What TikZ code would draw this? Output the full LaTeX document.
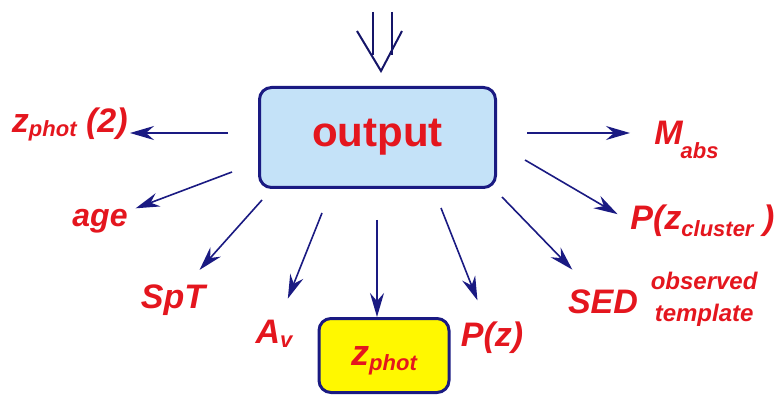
\documentclass[tikz,border=0pt]{standalone}
\usepackage{fontspec}
\setmainfont{Liberation Sans}
\usepackage{xcolor}
\usetikzlibrary{arrows.meta, positioning, calc}
\definecolor{labelred}{RGB}{228,22,30}
\definecolor{arrownavy}{RGB}{26,26,130}
\definecolor{boxblue}{RGB}{196,226,248}
\definecolor{boxyellow}{RGB}{255,248,0}
% lowered small text for subscripts
\newcommand{\subtxt}[2][2.5pt]{\raisebox{-#1}{\fontsize{11}{12}\selectfont #2}}

\begin{document}
\begin{tikzpicture}[x=0.5pt, y=-0.5pt,
    outlbl/.style={text=labelred, font=\bfseries\itshape\fontsize{17}{20}\selectfont, inner sep=1pt},
    resbox/.style={draw=arrownavy, line width=1.5pt, rounded corners=6pt},
    arr/.style={arrownavy, line width=0.8pt, -{Stealth[length=12pt, width=7pt, inset=4pt]}},
    inarr/.style={arrownavy!80!black, line width=1pt}]
    \useasboundingbox (0,0) rectangle (781,395);

    % Boxes
    \node[resbox, fill=boxblue, minimum width=118pt, minimum height=50pt, text=labelred,
          font=\bfseries\fontsize{21}{24}\selectfont] (out) at (377.5,137.5) {output};
    \node[resbox, fill=boxyellow, minimum width=65pt, minimum height=37pt, text depth=0pt,
          text=labelred, font=\bfseries\itshape\fontsize{18}{20}\selectfont] (zph) at (384,355.5) {z\subtxt[2.5pt]{phot}};

    % Input arrow
    \coordinate (in) at (382.5,12);
    \coordinate (tip) at (381,71);
    \draw[inarr] ($(in)+(-9.5,0)$) -- ++(0,43);
    \draw[inarr] ($(in)+(9.5,0)$) -- ++(0,43);
    \draw[inarr] ($(tip)+(-24,-40)$) -- (tip) -- ($(tip)+(21,-40)$);

    % Labels
    \node[outlbl, anchor=base east] (zph2) at (130,133) {z\subtxt[2pt]{phot} (2)};
    \node[outlbl, anchor=base, font=\bfseries\itshape\fontsize{16}{20}\selectfont] (age) at (100,227) {age};
    \node[outlbl, anchor=base] (spt) at (173,308) {SpT};
    \node[outlbl, anchor=base] (av) at (274,343) {A\subtxt[2pt]{v}};
    \node[outlbl, anchor=base] (pz) at (492,346) {P(z)};
    \node[outlbl, anchor=base] (sed) at (603,313) {SED};
    \node[outlbl, font=\bfseries\itshape\fontsize{12}{16}\selectfont, align=center, right=4pt of sed.east, yshift=1pt] (obs) {observed\\template};
    \node[outlbl, anchor=base west] (mabs) at (652,145) {M\hspace{-1pt}\subtxt[7pt]{abs}};
    \node[outlbl, anchor=base west] (pzcl) at (628,229) {P(z\subtxt[3.5pt]{cluster} )};

    % Arrows out of the box
    \coordinate (s1) at (228,133);
    \coordinate (s2) at (232,172);
    \coordinate (s3) at (262,200);
    \coordinate (s4) at (322,213);
    \coordinate (s5) at (377,220);
    \coordinate (s6) at (441,208);
    \coordinate (s7) at (502,197);
    \coordinate (s8) at (525,160);
    \coordinate (s9) at (527,133);
    \draw[arr] (s1) -- (s1 -| zph2.east);
    \draw[arr, shorten >=3pt] (s2) -- (age);
    \draw[arr, shorten >=8pt] (s3) -- (spt);
    \draw[arr, shorten >=10pt] (s4) -- (av);
    \draw[arr] (s5) -- (s5 |- zph.north);
    \draw[arr, shorten >=10pt] (s6) -- (pz);
    \draw[arr, shorten >=12pt] (s7) -- (sed);
    \draw[arr, shorten >=6pt] (s8) -- (pzcl.west);
    \draw[arr, shorten >=11pt] (s9) -- (s9 -| mabs.west);
\end{tikzpicture}
\end{document}
